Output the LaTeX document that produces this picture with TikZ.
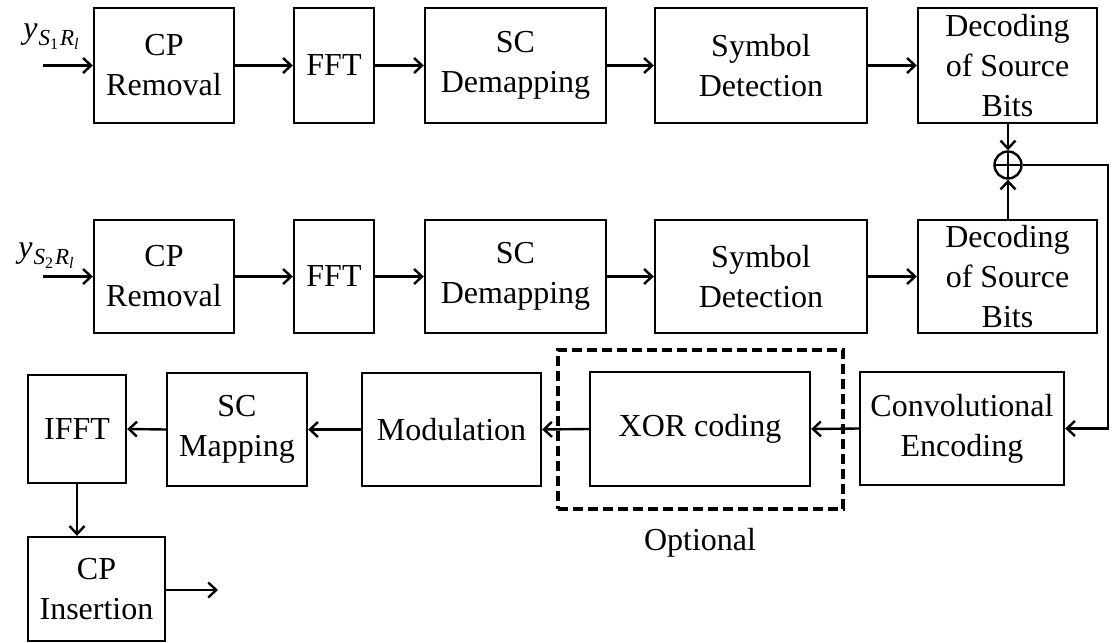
\documentclass[tikz,border=0pt]{standalone}
\usepackage{fontspec}
\setmainfont{Liberation Serif}
\usetikzlibrary{arrows.meta}
\newcommand{\sublbl}[2]{{\itshape y}\hspace{1pt}\raisebox{-7pt}{\fontsize{23}{23}\selectfont\itshape S\raisebox{-4pt}{\fontsize{16}{16}\selectfont\upshape #1}\hspace{2pt}R\raisebox{-4pt}{\fontsize{16}{16}\selectfont\itshape #2}}}
\begin{document}
\begin{tikzpicture}[x=1pt,y=-1pt,
  blk/.style={draw,line width=2.4pt,align=center,inner sep=0pt,font=\fontsize{32}{40}\selectfont},
  arr/.style={line width=2.4pt,-{Straight Barb[length=8pt,width=15pt,line width=2.4pt]}},
  lbl/.style={inner sep=0pt,font=\fontsize{32}{32}\selectfont},
  optbox/.style={draw,line width=3.2pt,dash pattern=on 10pt off 5pt,inner sep=0pt}]
\useasboundingbox (0,0) rectangle (1112,643);
% row 1
\node[blk,minimum width=140,minimum height=115] (cp1) at (164,65.5) {CP\\Removal};
\node[blk,minimum width=80,minimum height=115] (fft1) at (334,65.5) {FFT};
\node[blk,minimum width=181,minimum height=115] (scd1) at (515.5,65.5) {SC\\Demapping};
\node[blk,minimum width=212,minimum height=115] (sd1) at (761,65.5) {Symbol\\Detection};
\node[blk,minimum width=179,minimum height=115] (dec1) at (1007.5,65.5) {Decoding\\of Source\\Bits};
% row 2
\node[blk,minimum width=140,minimum height=113] (cp2) at (164,276.5) {CP\\Removal};
\node[blk,minimum width=80,minimum height=113] (fft2) at (334,276.5) {FFT};
\node[blk,minimum width=181,minimum height=113] (scd2) at (515.5,276.5) {SC\\Demapping};
\node[blk,minimum width=212,minimum height=113] (sd2) at (761,276.5) {Symbol\\Detection};
\node[blk,minimum width=179,minimum height=113] (dec2) at (1007.5,276.5) {Decoding\\of Source\\Bits};
% xor circle
\node[draw,circle,line width=2.4pt,minimum size=27pt,inner sep=0pt,
  path picture={\draw[line width=2.4pt] (path picture bounding box.north) -- (path picture bounding box.south)
    (path picture bounding box.west) -- (path picture bounding box.east);}] (xr) at (1008,165) {};
% row 3
\node[optbox,minimum width=285,minimum height=159] (opt) at (700.5,429.5) {};
\node[blk,minimum width=98,minimum height=108] (ifft) at (77,429) {IFFT};
\node[blk,minimum width=140,minimum height=113] (scm) at (237,429.5) {SC\\Mapping};
\node[blk,minimum width=179,minimum height=113] (mod) at (451.5,429.5) {Modulation};
\node[blk,minimum width=220,minimum height=114] (xorc) at (700,429) {XOR coding};
\node[blk,minimum width=204,minimum height=113] (conv) at (962,428.5) {Convolutional\\Encoding};
\node[blk,minimum width=137,minimum height=104] (cpi) at (96.5,589) {CP\\Insertion};
\node[inner sep=0pt,font=\fontsize{32}{40}\selectfont] (optl) at (700,543) {Optional};
% labels
\node[lbl] (l1) at (51,37) {\sublbl{1}{l}};
\node[lbl] (l2) at (46,256) {\sublbl{2}{l}};
% coordinates
\coordinate (in1) at (43,65.5);
\coordinate (in2) at (43,276.5);
\coordinate (out) at (218,590);
\coordinate (c1) at (1108,165);
\coordinate (c2) at (1108,428.5);
% connectors
\draw[arr] (in1) -- (cp1.west);
\draw[arr] (cp1) -- (fft1);
\draw[arr] (fft1) -- (scd1);
\draw[arr] (scd1) -- (sd1);
\draw[arr] (sd1) -- (dec1);
\draw[arr] (in2) -- (cp2.west);
\draw[arr] (cp2) -- (fft2);
\draw[arr] (fft2) -- (scd2);
\draw[arr] (scd2) -- (sd2);
\draw[arr] (sd2) -- (dec2);
\draw[arr] (dec1.south -| xr) -- (xr.north);
\draw[arr] (dec2.north -| xr) -- (xr.south);
\draw[arr] (xr.east) -- (c1) -- (c2) -- (conv.east);
\draw[arr] (conv.west) -- (xorc.east);
\draw[arr] (xorc.west) -- (mod.east);
\draw[arr] (mod.west) -- (scm.east);
\draw[arr] (scm.west) -- (ifft.east);
\draw[arr] (ifft.south) -- (ifft.south |- cpi.north);
\draw[arr] (cpi.east |- out) -- (out);
\end{tikzpicture}
\end{document}
